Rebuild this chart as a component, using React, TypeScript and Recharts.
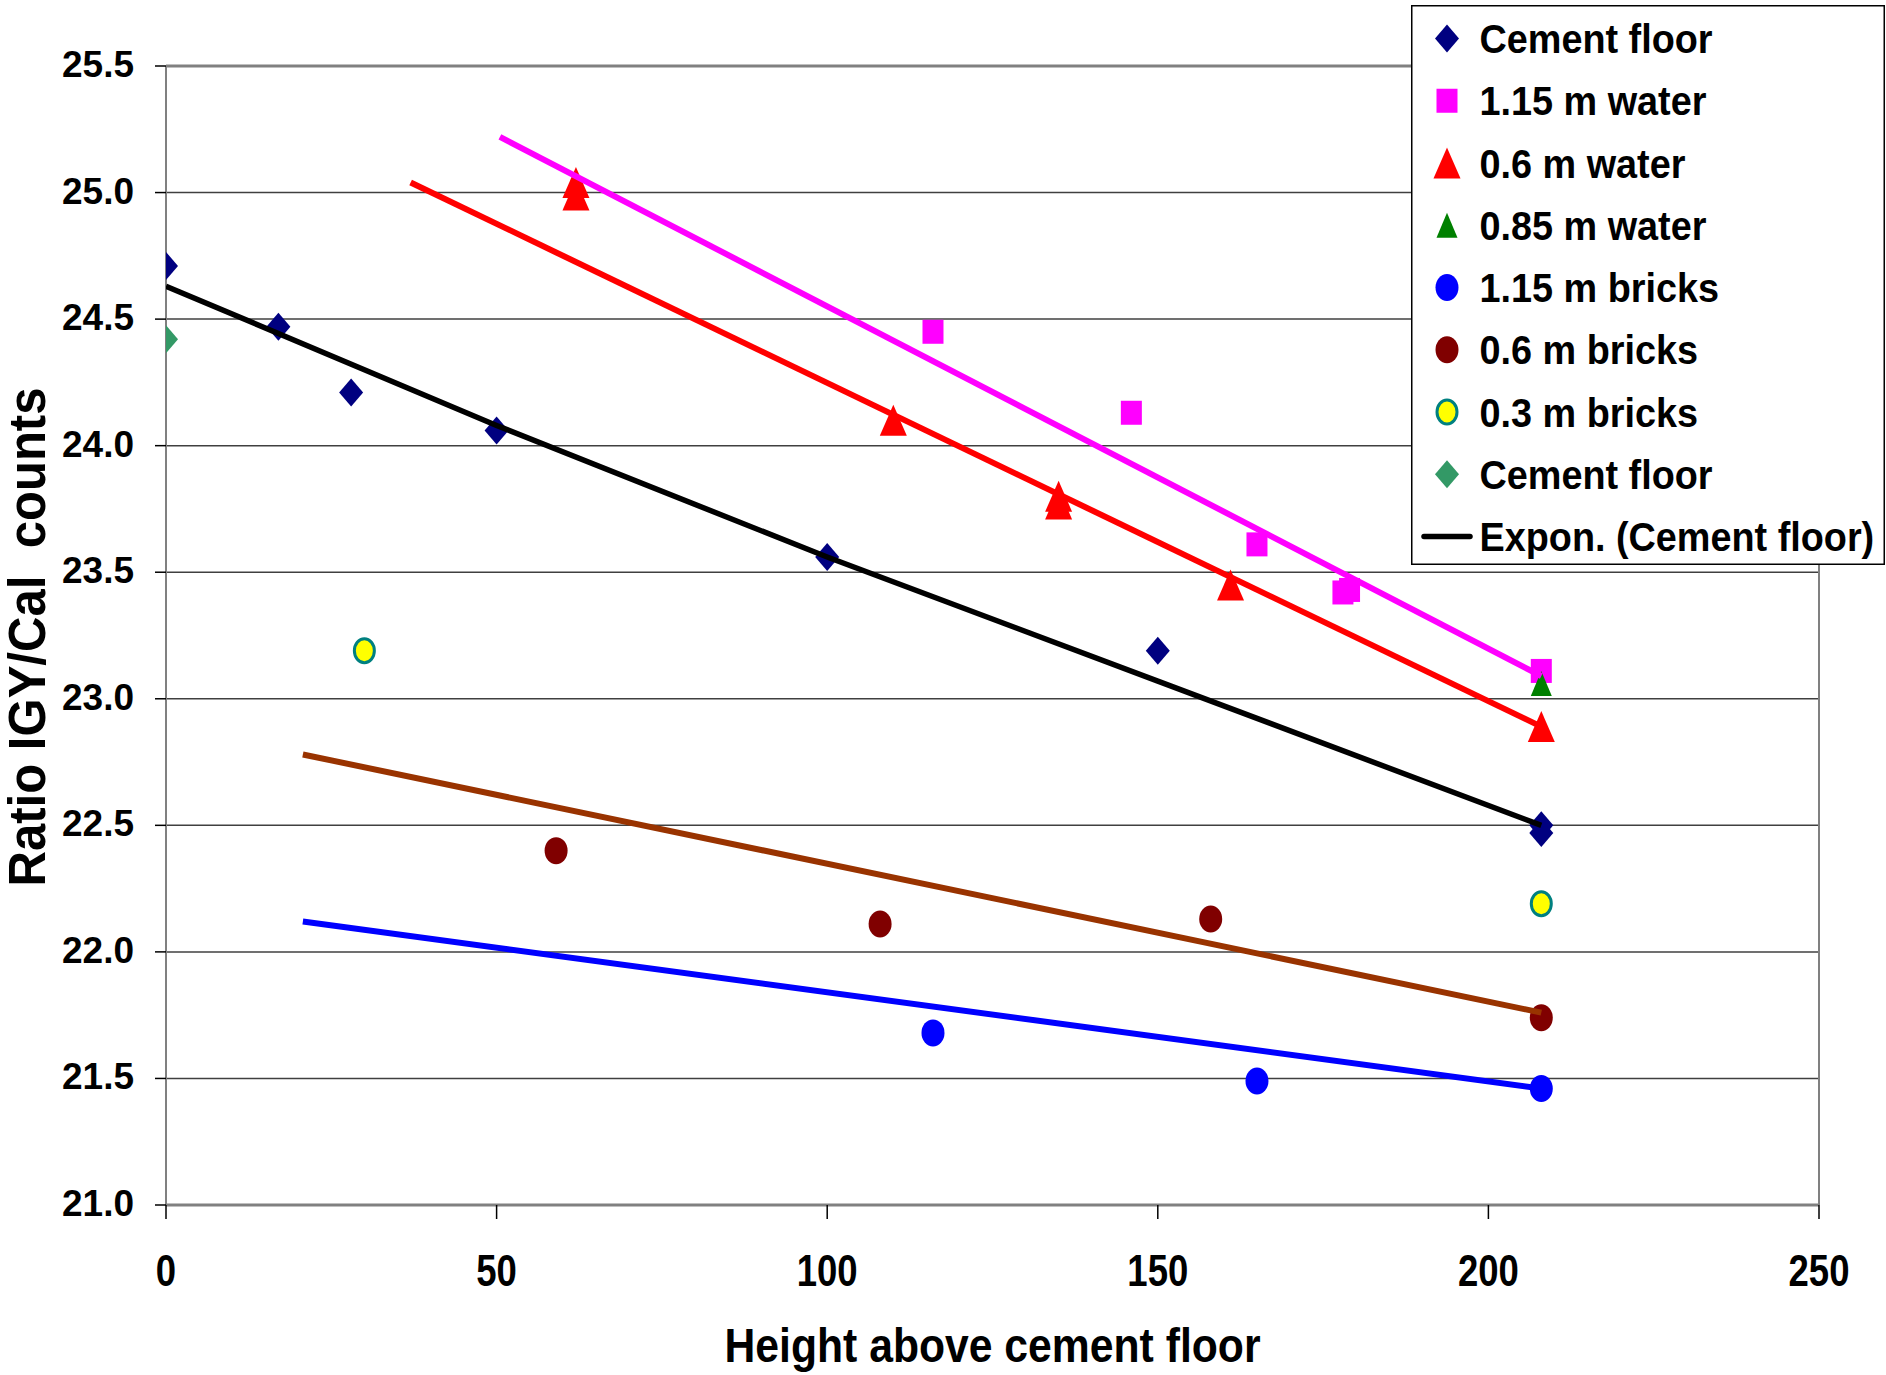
import React from 'react';
import { ScatterChart, Scatter, XAxis, YAxis, CartesianGrid, ReferenceLine, Legend, Label } from 'recharts';

// ---- data ----
const cementFloorX = [0, 17, 28, 50, 100, 150, 208, 208];
const cementFloorY = [24.71, 24.47, 24.21, 24.06, 23.56, 23.19, 22.5, 22.47];
const water115X = [116, 146, 165, 178, 179, 208];
const water115Y = [24.45, 24.13, 23.61, 23.42, 23.43, 23.11];
const water06X = [62, 62, 110, 135, 135, 161, 208];
const water06Y = [25.04, 24.99, 24.1, 23.8, 23.77, 23.45, 22.89];
const water085X = [208];
const water085Y = [23.06];
const bricks115X = [116, 165, 208];
const bricks115Y = [21.68, 21.49, 21.46];
const bricks06X = [59, 108, 158, 208];
const bricks06Y = [22.4, 22.11, 22.13, 21.74];
const bricks03X = [30, 208];
const bricks03Y = [23.19, 22.19];
const cementFloor2X = [0];
const cementFloor2Y = [24.42];

// trend lines
const trendCementX = [0, 50, 100, 150, 208];
const trendCementY = [24.63, 24.08, 23.56, 23.07, 22.5];
const trendWater115X = [50.5, 208];
const trendWater115Y = [25.22, 23.09];
const trendWater06X = [37, 208];
const trendWater06Y = [25.04, 22.89];
const trendBricks06X = [20.7, 208];
const trendBricks06Y = [22.78, 21.76];
const trendBricks115X = [20.7, 208];
const trendBricks115Y = [22.12, 21.46];

const xTicks = [0, 50, 100, 150, 200, 250];
const yTicks = [21, 21.5, 22, 22.5, 23, 23.5, 24, 24.5, 25, 25.5];

const legendNames = [
  'Cement floor',
  '1.15 m water',
  '0.6 m water',
  '0.85 m water',
  '1.15 m bricks',
  '0.6 m bricks',
  '0.3 m bricks',
  'Cement floor',
  'Expon. (Cement floor)',
];

const xTitle = 'Height above cement floor';
const yTitle = 'Ratio IGY/Cal  counts';

const zip = (xs: number[], ys: number[]) => xs.map((x, i) => ({ x, y: ys[i] }));

const FONT = '"Liberation Sans", Arial, sans-serif';

// ---- marker shapes ----
type MK = 'diamond' | 'square' | 'triangle' | 'smallTriangle' | 'circle' | 'ringCircle';

const Marker = ({ kind, cx, cy, color }: { kind: MK; cx: number; cy: number; color: string }) => {
  switch (kind) {
    case 'diamond':
      return <polygon points={`${cx},${cy - 14} ${cx + 12},${cy} ${cx},${cy + 14} ${cx - 12},${cy}`} fill={color} />;
    case 'square':
      return <rect x={cx - 10.5} y={cy - 12} width={21} height={24} fill={color} />;
    case 'triangle':
      return <polygon points={`${cx},${cy - 15.5} ${cx + 13.5},${cy + 15.5} ${cx - 13.5},${cy + 15.5}`} fill={color} />;
    case 'smallTriangle':
      return <polygon points={`${cx},${cy - 12.5} ${cx + 10.5},${cy + 12.5} ${cx - 10.5},${cy + 12.5}`} fill={color} />;
    case 'circle':
      return <ellipse cx={cx} cy={cy} rx={11.5} ry={13.5} fill={color} />;
    case 'ringCircle':
      return <ellipse cx={cx} cy={cy} rx={10} ry={12} fill={color} stroke="#008080" strokeWidth={3} />;
  }
  return null;
};

const shapeOf = (kind: MK, color: string) => (p: any) => <Marker kind={kind} cx={p.cx} cy={p.cy} color={color} />;
const noShape = () => <g />;

const legendKinds: (MK | 'line')[] = ['diamond', 'square', 'triangle', 'smallTriangle', 'circle', 'circle', 'ringCircle', 'diamond', 'line'];
const legendColors = ['#000080', '#FF00FF', '#FF0000', '#008000', '#0000FF', '#800000', '#FFFF00', '#339966', '#000000'];

const LegendBox = () => (
  <svg width={474} height={560} style={{ display: 'block' }}>
    <rect x={0.75} y={0.75} width={472.5} height={558.5} fill="#fff" stroke="#000" strokeWidth={1.5} />
    {legendNames.map((name, i) => {
      const cy = 33.5 + i * 62.25;
      const kind = legendKinds[i];
      return (
        <g key={i}>
          {kind === 'line' ? (
            <line x1={13} x2={59} y1={cy} y2={cy} stroke={legendColors[i]} strokeWidth={5.5} strokeLinecap="round" />
          ) : (
            <Marker kind={kind} cx={36} cy={cy} color={legendColors[i]} />
          )}
          <text
            transform={`translate(68.5,${cy + 14.5}) scale(0.945,1)`}
            fontFamily={FONT}
            fontWeight="bold"
            fontSize={40}
            fill="#000"
          >
            {name}
          </text>
        </g>
      );
    })}
  </svg>
);

const YTick = (props: any) => {
  const { x, y, payload } = props;
  return (
    <text x={x} y={y + 11} textAnchor="end" fontFamily={FONT} fontWeight="bold" fontSize={37} fill="#000">
      {Number(payload.value).toFixed(1)}
    </text>
  );
};

const XTick = (props: any) => {
  const { x, y, payload } = props;
  return (
    <text transform={`translate(${x},${y + 67}) scale(0.83,1)`} textAnchor="middle" fontFamily={FONT} fontWeight="bold" fontSize={44} fill="#000">
      {payload.value}
    </text>
  );
};

const XTitle = (props: any) => {
  const vb = props.viewBox || {};
  const cx = vb.x + vb.width / 2;
  return (
    <text x={cx} y={1362} textAnchor="middle" fontFamily={FONT} fontWeight="bold" fontSize={49} fill="#000" textLength={536} lengthAdjust="spacingAndGlyphs">
      {xTitle}
    </text>
  );
};

const YTitle = () => (
  <text
    transform={`translate(45,637) rotate(-90)`}
    textAnchor="middle"
    fontFamily={FONT}
    fontWeight="bold"
    fontSize={51}
    fill="#000"
    textLength={499}
    lengthAdjust="spacingAndGlyphs"
    style={{ whiteSpace: 'pre' }}
  >
    {yTitle}
  </text>
);

export default function App() {
  return (
    <div style={{ position: 'absolute', left: 0, top: 0, width: 1886, height: 1375, background: '#fff' }}>
      <ScatterChart width={1886} height={1375} margin={{ top: 66, right: 67, bottom: 0, left: 0 }}>
        <CartesianGrid horizontal vertical={false} stroke="#404040" strokeWidth={1.5} />
        <ReferenceLine y={25.5} stroke="#808080" strokeWidth={3} />
        <ReferenceLine x={250} stroke="#808080" strokeWidth={2} />
        <XAxis
          type="number"
          dataKey="x"
          domain={[0, 250]}
          ticks={xTicks}
          interval={0}
          height={170}
          tickSize={14}
          tickMargin={0}
          tick={<XTick />}
          axisLine={{ stroke: '#808080', strokeWidth: 3 }}
          tickLine={{ stroke: '#000', strokeWidth: 1.5 }}
          allowDataOverflow
        >
          <Label content={<XTitle />} />
        </XAxis>
        <YAxis
          type="number"
          dataKey="y"
          domain={[21, 25.5]}
          ticks={yTicks}
          interval={0}
          width={166}
          tickSize={11}
          tickMargin={21}
          tick={<YTick />}
          axisLine={{ stroke: '#808080', strokeWidth: 2 }}
          tickLine={{ stroke: '#000', strokeWidth: 1.5 }}
          allowDataOverflow
        >
          <Label content={<YTitle />} />
        </YAxis>

        <Scatter name="Cement floor" data={zip(cementFloorX, cementFloorY)} fill="#000080" shape={shapeOf('diamond', '#000080')} isAnimationActive={false} />
        <Scatter name="1.15 m water" data={zip(water115X, water115Y)} fill="#FF00FF" shape={shapeOf('square', '#FF00FF')} isAnimationActive={false} />
        <Scatter name="0.6 m water" data={zip(water06X, water06Y)} fill="#FF0000" shape={shapeOf('triangle', '#FF0000')} isAnimationActive={false} />
        <Scatter name="0.85 m water" data={zip(water085X, water085Y)} fill="#008000" shape={shapeOf('smallTriangle', '#008000')} isAnimationActive={false} />
        <Scatter name="1.15 m bricks" data={zip(bricks115X, bricks115Y)} fill="#0000FF" shape={shapeOf('circle', '#0000FF')} isAnimationActive={false} />
        <Scatter name="0.6 m bricks" data={zip(bricks06X, bricks06Y)} fill="#800000" shape={shapeOf('circle', '#800000')} isAnimationActive={false} />
        <Scatter name="0.3 m bricks" data={zip(bricks03X, bricks03Y)} fill="#FFFF00" shape={shapeOf('ringCircle', '#FFFF00')} isAnimationActive={false} />
        <Scatter name="Cement floor 2" data={zip(cementFloor2X, cementFloor2Y)} fill="#339966" shape={shapeOf('diamond', '#339966')} isAnimationActive={false} />

        <Scatter name="trend 1.15 m bricks" data={zip(trendBricks115X, trendBricks115Y)} fill="#0000FF" line={{ stroke: '#0000FF', strokeWidth: 6 }} shape={noShape} isAnimationActive={false} />
        <Scatter name="trend 0.6 m bricks" data={zip(trendBricks06X, trendBricks06Y)} fill="#993300" line={{ stroke: '#993300', strokeWidth: 6 }} shape={noShape} isAnimationActive={false} />
        <Scatter name="Expon. (Cement floor)" data={zip(trendCementX, trendCementY)} fill="#000000" line={{ stroke: '#000000', strokeWidth: 5.5 }} shape={noShape} isAnimationActive={false} />
        <Scatter name="trend 0.6 m water" data={zip(trendWater06X, trendWater06Y)} fill="#FF0000" line={{ stroke: '#FF0000', strokeWidth: 6 }} shape={noShape} isAnimationActive={false} />
        <Scatter name="trend 1.15 m water" data={zip(trendWater115X, trendWater115Y)} fill="#FF00FF" line={{ stroke: '#FF00FF', strokeWidth: 6 }} shape={noShape} isAnimationActive={false} />

        <Legend
          layout="horizontal"
          verticalAlign="middle"
          align="center"
          content={() => <LegendBox />}
          wrapperStyle={{ position: 'absolute', left: 1411, top: 5, width: 474, height: 560, margin: 0, padding: 0 }}
        />
      </ScatterChart>
    </div>
  );
}
